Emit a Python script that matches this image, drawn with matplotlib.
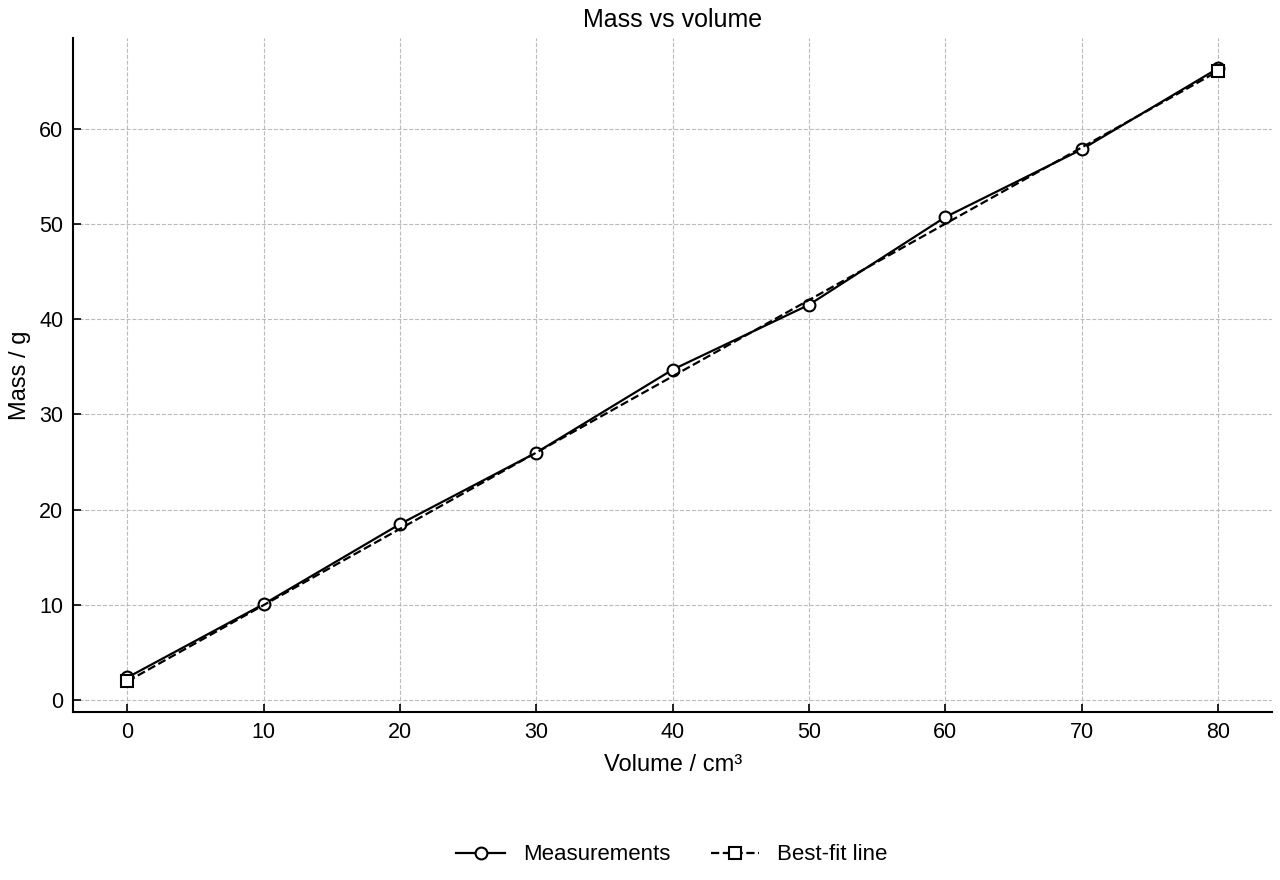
import matplotlib
matplotlib.use("Agg")
import matplotlib.pyplot as plt

# ---- data ----
volume = [0, 10, 20, 30, 40, 50, 60, 70, 80]
mass = [2.4, 10.1, 18.5, 26.0, 34.7, 41.5, 50.7, 57.8, 66.3]
fit_volume = [0, 80]
fit_mass = [2.0, 66.0]

plt.rcParams.update({"font.family": ["Liberation Sans", "DejaVu Sans"], "font.size": 15})

fig, ax = plt.subplots(figsize=(12.8, 8.8), dpi=100)
fig.subplots_adjust(left=0.057, right=0.994, top=0.957, bottom=0.191)

ax.plot(volume, mass, "-o", color="black", lw=1.6, ms=8.5, mfc="white", mew=1.5,
        label="Measurements", zorder=3)
ax.plot(fit_volume, fit_mass, "--s", color="black", lw=1.6, ms=9, mfc="white", mew=1.5,
        label="Best-fit line", zorder=4)

ax.set_title("Mass vs volume", fontsize=18, pad=8)
ax.set_xlabel("Volume / cm³", fontsize=17, labelpad=8)
ax.set_ylabel("Mass / g", fontsize=17, labelpad=6)
ax.set_xticks(range(0, 81, 10))
ax.set_yticks(range(0, 61, 10))
ax.tick_params(direction="in", length=6, width=1.2, labelsize=15.5, pad=7)
ax.grid(True, ls="--", color="#bbbbbb", lw=0.8)
ax.set_axisbelow(True)
for s in ("top", "right"):
    ax.spines[s].set_visible(False)
for s in ("left", "bottom"):
    ax.spines[s].set_linewidth(1.5)

fig.legend(loc="lower center", bbox_to_anchor=(0.525, -0.006), ncol=2, frameon=False,
           fontsize=16, handlelength=2.2, columnspacing=1.8)

fig.savefig("out.png")
